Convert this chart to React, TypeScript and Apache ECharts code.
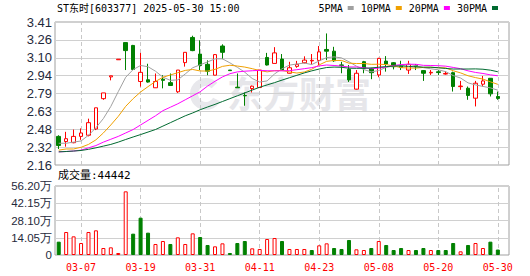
import React, { useEffect, useRef } from 'react';
import * as echarts from 'echarts';

const dates = [
  '03-04','03-05','03-06','03-07','03-10','03-11','03-12','03-13','03-14','03-17',
  '03-18','03-19','03-20','03-21','03-24','03-25','03-26','03-27','03-28','03-31',
  '04-01','04-02','04-03','04-07','04-08','04-09','04-10','04-11','04-14','04-15',
  '04-16','04-17','04-18','04-21','04-22','04-23','04-24','04-25','04-28','04-29',
  '04-30','05-06','05-07','05-08','05-09','05-12','05-13','05-14','05-15','05-16',
  '05-19','05-20','05-21','05-22','05-23','05-26','05-27','05-28','05-29','05-30',
];

const opens = [
  2.41,2.365,2.355,2.41,2.42,2.475,2.74,2.93,3.08,3.23,
  3.205,2.89,2.905,2.835,2.91,2.88,2.80,3.055,3.275,3.13,
  3.04,2.945,3.20,2.99,2.84,2.768,2.828,2.837,3.10,3.048,
  3.086,2.962,3.022,3.054,3.07,3.074,3.17,3.155,3.035,2.996,
  2.823,3.063,3.005,2.947,3.068,3.054,3.025,2.99,3.03,2.985,
  2.965,2.975,2.955,2.967,2.845,2.831,2.744,2.866,2.918,2.759,
];
const closes = [
  2.33,2.39,2.41,2.44,2.53,2.66,2.79,2.94,3.085,3.16,
  2.995,2.97,2.885,2.89,2.90,2.855,2.99,3.145,3.16,3.03,
  2.98,3.125,3.145,2.985,2.835,2.765,2.849,2.99,3.034,3.14,
  2.99,3.01,3.04,3.077,3.075,3.149,3.155,3.071,3.03,2.904,
  2.962,3.005,2.967,3.092,3.043,3.019,3.012,3.04,3.02,2.962,
  2.97,2.968,2.96,2.846,2.85,2.768,2.875,2.895,2.782,2.742,
];
const lows = [
  2.30,2.32,2.35,2.38,2.41,2.465,2.73,2.90,3.08,2.99,
  2.99,2.845,2.88,2.835,2.83,2.855,2.79,3.02,3.155,2.99,
  2.945,2.945,3.085,2.985,2.835,2.678,2.794,2.837,3.03,3.048,
  2.99,2.96,3.01,3.048,3.04,3.034,3.077,3.062,2.962,2.886,
  2.82,2.962,2.91,2.927,2.976,2.996,2.99,2.956,2.99,2.895,
  2.947,2.947,2.95,2.802,2.817,2.73,2.672,2.846,2.759,2.73,
];
const highs = [
  2.42,2.45,2.47,2.48,2.565,2.66,2.79,2.94,3.085,3.23,
  3.21,3.14,3.045,2.96,2.945,2.96,2.99,3.145,3.29,3.25,
  3.075,3.13,3.215,2.99,2.96,2.794,2.854,2.99,3.14,3.19,
  3.13,3.062,3.07,3.11,3.13,3.20,3.31,3.193,3.062,3.034,
  2.99,3.07,3.01,3.097,3.112,3.06,3.071,3.071,3.043,2.99,
  2.99,2.99,2.978,2.976,2.895,2.846,2.895,2.938,2.92,2.802,
];

const volumes = [
  108600,187300,152000,97700,187300,200900,57000,62400,16300,518600,
  173800,304000,181900,89600,114000,89600,143900,89600,176500,146600,
  81500,70600,95000,16300,97700,114000,54300,48900,130300,138500,
  114000,48900,48900,48900,40700,78700,95000,57000,48900,122200,
  46200,40700,57000,114000,81500,40700,57000,40700,40700,57000,
  40700,40700,40700,97700,29900,81500,97700,57000,108600,44442,
];

const ma5 = [
  2.35,2.35,2.36,2.37,2.42,2.486,2.566,2.672,2.801,2.927,
  2.994,3.030,3.019,2.98,2.928,2.90,2.904,2.956,3.01,3.036,
  3.061,3.088,3.088,3.053,3.014,2.971,2.916,2.885,2.895,2.956,
  3.001,3.033,3.043,3.051,3.038,3.070,3.099,3.105,3.096,3.062,
  3.024,2.994,2.974,2.986,3.014,3.025,3.027,3.042,3.027,3.011,
  3.001,2.992,2.976,2.942,2.920,2.878,2.860,2.847,2.834,2.814,
];
const ma10 = [
  2.29,2.30,2.30,2.315,2.34,2.38,2.44,2.51,2.585,2.673,
  2.740,2.798,2.845,2.890,2.927,2.947,2.967,2.987,2.995,2.982,
  2.981,2.996,3.022,3.032,3.025,3.016,3.002,2.986,2.974,2.985,
  2.986,2.974,2.964,2.973,2.997,3.035,3.066,3.074,3.074,3.050,
  3.047,3.047,3.040,3.041,3.038,3.025,3.011,3.008,3.007,3.013,
  3.014,3.010,3.009,2.984,2.965,2.940,2.924,2.911,2.887,2.865,
];
const ma20 = [
  2.275,2.278,2.282,2.29,2.31,2.33,2.36,2.385,2.41,2.44,
  2.47,2.51,2.55,2.59,2.635,2.665,2.695,2.73,2.765,2.80,
  2.850,2.892,2.930,2.958,2.974,2.980,2.984,2.987,2.984,2.983,
  2.983,2.985,2.993,3.002,3.011,3.026,3.034,3.030,3.024,3.017,
  3.017,3.011,3.002,3.007,3.017,3.030,3.038,3.041,3.040,3.031,
  3.030,3.028,3.024,3.013,3.002,2.983,2.969,2.960,2.948,2.940,
];
const ma30 = [
  2.275,2.278,2.282,2.287,2.297,2.31,2.325,2.34,2.36,2.383,
  2.405,2.426,2.448,2.47,2.50,2.53,2.56,2.59,2.615,2.643,
  2.667,2.69,2.715,2.74,2.765,2.79,2.815,2.84,2.86,2.88,
  2.902,2.923,2.944,2.965,2.983,2.999,3.012,3.016,3.014,3.006,
  3.005,3.006,3.008,3.015,3.020,3.025,3.026,3.022,3.018,3.015,
  3.015,3.010,3.004,2.999,2.999,2.999,3.000,2.997,2.989,2.975,
];

const priceTicks = ['2.16','2.32','2.48','2.63','2.79','2.94','3.10','3.26','3.41'];
const labelDates = ['03-07','03-19','03-31','04-11','04-23','05-08','05-20','05-30'];
const maNames = ['5PMA','10PMA','20PMA','30PMA'];
const maColors = ['#a0a0a0','#f0a000','#ff00ff','#006a30'];
const titleText = 'ST东时[603377] 2025-05-30 15:00';
const volText = '成交量:44442';

const PRICE_MIN = 2.16;
const PRICE_MAX = 3.41;
const VOL_MAX = 562000;

const UP = '#ff0000';
const DOWN = '#008000';
const MONO = '"DejaVu Sans Mono", "Noto Sans CJK SC", monospace';
const SANS = '"Liberation Sans", Arial, sans-serif';
const LABEL_COLOR = '#1f2a3c';

export default function App() {
  const ref = useRef<HTMLDivElement>(null);

  useEffect(() => {
    const chart = echarts.init(ref.current as HTMLDivElement, null, { renderer: 'svg' });
    const cats = [...dates, ''];
    const step = (PRICE_MAX - PRICE_MIN) / 8;
    const labelIdx = labelDates.map((d) => dates.indexOf(d));

    const candleData = dates.map((_, i) => [opens[i], closes[i], lows[i], highs[i]]);
    const volData = volumes.map((v, i) => {
      const up = i === 0 ? closes[i] >= opens[i] : closes[i] >= closes[i - 1];
      return {
        value: v,
        itemStyle: up
          ? { color: '#ffffff', borderColor: UP, borderWidth: 1 }
          : { color: DOWN, borderColor: DOWN, borderWidth: 1 },
      };
    });

    const vLines = () => ({
      silent: true,
      symbol: ['none', 'none'],
      z: 1,
      label: { show: false },
      emphasis: { disabled: true },
      lineStyle: { color: '#c8c8c8', type: [4, 3], width: 1 },
      data: labelDates.map((d) => ({ xAxis: d })),
    });

    const maSeries = [ma5, ma10, ma20, ma30].map((arr, k) => ({
      name: maNames[k],
      type: 'line',
      xAxisIndex: 0,
      yAxisIndex: 0,
      data: arr,
      showSymbol: false,
      symbol: 'none',
      smooth: false,
      z: 4,
      itemStyle: { color: maColors[k] },
      lineStyle: { color: maColors[k], width: 1 },
      emphasis: { disabled: true },
      silent: true,
    }));

    const option: any = {
      animation: false,
      backgroundColor: '#ffffff',
      legend: {
        data: maNames,
        right: 32,
        top: 3,
        align: 'right',
        icon: 'rect',
        itemWidth: 6,
        itemHeight: 4,
        itemGap: 7,
        padding: 0,
        selectedMode: false,
        textStyle: { fontFamily: MONO, fontSize: 10, color: '#000' },
      },
      grid: [
        { left: 55, top: 22, width: 454, height: 143, show: true, borderColor: '#a0a0a0', borderWidth: 1, backgroundColor: 'transparent', containLabel: false, outerBoundsMode: 'none' },
        { left: 55, top: 186, width: 454, height: 69, show: true, borderColor: '#a0a0a0', borderWidth: 1, backgroundColor: 'transparent', containLabel: false, outerBoundsMode: 'none' },
      ],
      xAxis: [
        {
          type: 'category', gridIndex: 0, data: cats, boundaryGap: true,
          axisLine: { show: false }, axisTick: { show: false }, axisLabel: { show: false }, splitLine: { show: false },
        },
        {
          type: 'category', gridIndex: 1, data: cats, boundaryGap: true,
          axisLine: { show: false }, axisTick: { show: false }, splitLine: { show: false },
          axisLabel: {
            show: true,
            interval: (index: number) => labelIdx.includes(index),
            color: UP,
            fontFamily: MONO,
            fontSize: 10,
            margin: 7,
            hideOverlap: false,
          },
        },
      ],
      yAxis: [
        {
          type: 'value', gridIndex: 0, min: PRICE_MIN, max: PRICE_MAX, interval: step, scale: true,
          axisLine: { show: false }, axisTick: { show: false },
          splitLine: { show: true, lineStyle: { color: '#d0d0d0', width: 1, type: 'solid' } },
          axisLabel: {
            color: LABEL_COLOR, fontFamily: SANS, fontSize: 13, margin: 3,
            formatter: (v: number) => priceTicks[Math.round((v - PRICE_MIN) / step)] ?? '',
          },
        },
        {
          type: 'value', gridIndex: 1, min: 0, max: VOL_MAX, interval: VOL_MAX / 4,
          axisLine: { show: false }, axisTick: { show: false },
          splitLine: { show: true, lineStyle: { color: '#d0d0d0', width: 1, type: 'solid' } },
          axisLabel: {
            color: LABEL_COLOR, fontFamily: SANS, fontSize: 11.5, margin: 3,
            formatter: (v: number) => (v === 0 ? '0' : (v / 10000).toFixed(2) + '万'),
          },
        },
      ],
      graphic: [
        {
          type: 'text', left: 57, top: 3, silent: true,
          style: { text: titleText, font: `10px ${MONO}`, fill: '#000' },
        },
        {
          type: 'text', left: 58, top: 170, silent: true,
          style: { text: volText, font: `11px ${MONO}`, fill: '#000' },
        },
        {
          type: 'arc', silent: true, z: -1,
          shape: { cx: 206, cy: 94, r: 12, startAngle: Math.PI * 0.15, endAngle: Math.PI * 1.75 },
          style: { stroke: '#e8e8ec', lineWidth: 8, fill: 'none' },
        },
        {
          type: 'text', left: 227, top: 74, silent: true, z: -1,
          style: { text: '东方财富', font: 'bold 36px "Noto Sans CJK SC", sans-serif', fill: '#e6e6ea' },
        },
      ],
      series: [
        {
          name: 'K',
          type: 'candlestick',
          xAxisIndex: 0,
          yAxisIndex: 0,
          data: candleData,
          barWidth: 4,
          z: 3,
          silent: true,
          itemStyle: {
            color: '#ffffff',
            color0: DOWN,
            borderColor: UP,
            borderColor0: DOWN,
            borderWidth: 1,
          },
          markLine: vLines(),
        },
        ...maSeries,
        {
          name: 'VOL',
          type: 'bar',
          xAxisIndex: 1,
          yAxisIndex: 1,
          data: volData,
          barWidth: 4,
          z: 3,
          silent: true,
          markLine: vLines(),
        },
      ],
    };

    chart.setOption(option);
    return () => chart.dispose();
  }, []);

  return (
    <div
      ref={ref}
      style={{ position: 'absolute', left: 0, top: 0, width: 530, height: 276 }}
    />
  );
}
